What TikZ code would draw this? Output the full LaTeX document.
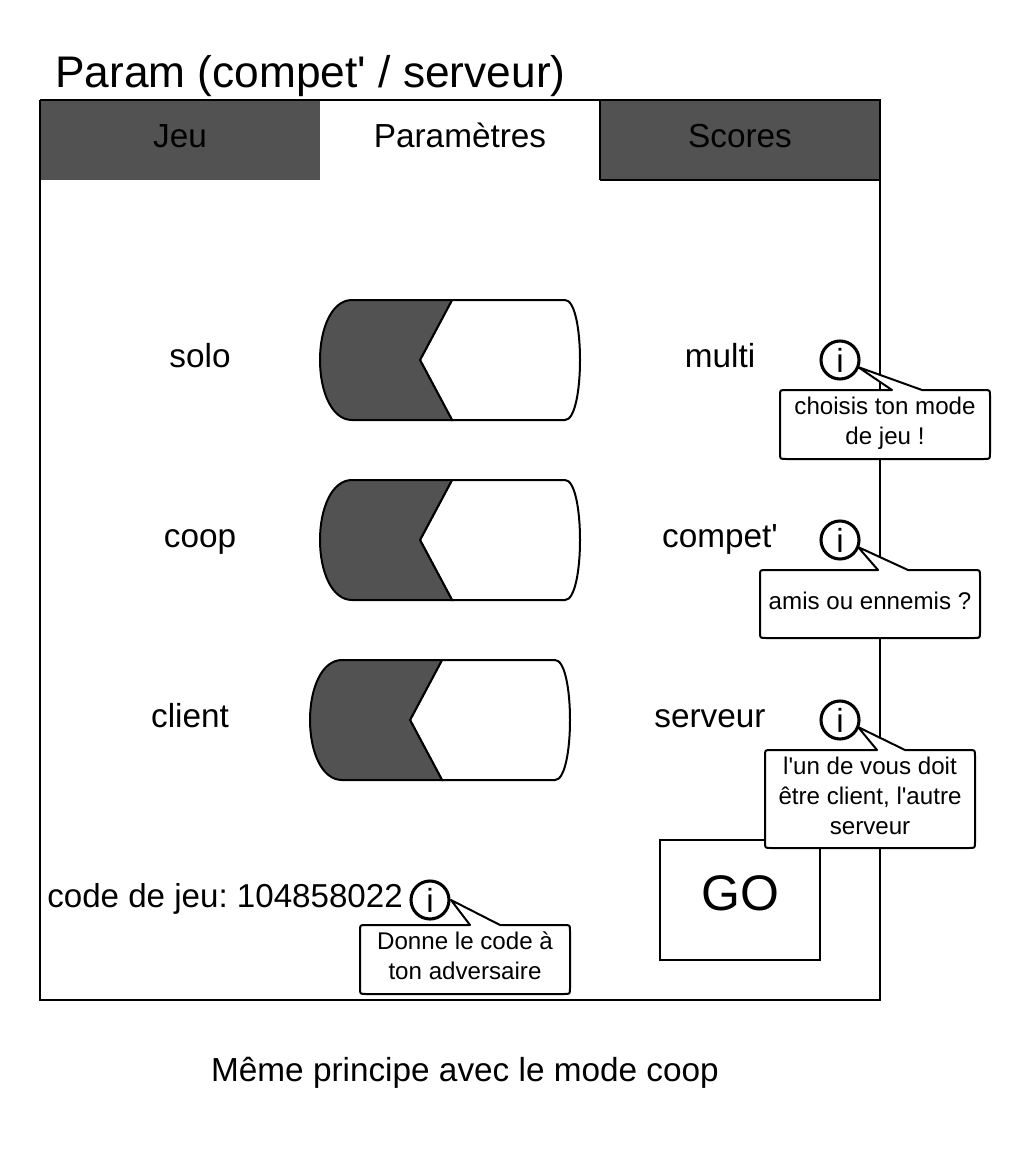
\documentclass[tikz,border=0pt]{standalone}
\usepackage{fontspec}
\newfontfamily\lib{Liberation Sans}
\definecolor{darkfill}{HTML}{525252}
\tikzset{
  x=0.75pt,y=-0.75pt,
  line/.style={draw=black,line width=1.5pt},
  txt/.style={inner sep=0pt,anchor=base,font=\lib\frenchspacing\fontsize{25pt}{30pt}\selectfont},
  small/.style={inner sep=0pt,align=center,font=\lib\frenchspacing\fontsize{18.1pt}{22.3pt}\selectfont},
  circ/.style={circle,draw=black,line width=2.3pt,fill=white,minimum size=28.5pt,inner sep=0pt,font=\lib\fontsize{25pt}{30pt}\selectfont},
  bubble/.style={draw=black,line width=1.5pt,fill=white,line join=round},
}
\newcommand{\togglesw}[2]{%
  \begin{scope}[shift={(#1,#2)}]
    \draw[line,fill=white] (132,0) -- (245,0) .. controls (255,0) and (260,30) .. (260,60)
       .. controls (260,90) and (255,120) .. (245,120) -- (132,120) -- (100,60) -- cycle;
    \draw[line,fill=darkfill] (132,0) -- (32,0) .. controls (12,0) and (0,28) .. (0,60)
       .. controls (0,92) and (12,120) .. (32,120) -- (132,120) -- (100,60) -- cycle;
  \end{scope}}
% left top right bottom tipx tipy base1 base2
\newcommand{\bubbleshape}[8]{%
  \draw[bubble] (#7,#2) -- (#5,#6) -- (#8,#2) -- ({#3-6},#2) .. controls (#3,#2) .. (#3,{#2+6})
    -- (#3,{#4-6}) .. controls (#3,#4) .. ({#3-6},#4) -- ({#1+6},#4) .. controls (#1,#4) .. (#1,{#4-6})
    -- (#1,{#2+6}) .. controls (#1,#2) .. ({#1+6},#2) -- cycle;
}
\begin{document}
\begin{tikzpicture}
\useasboundingbox (0,0) rectangle (1030,1170);
\fill[white] (0,0) rectangle (1030,1170);
% frame
\draw[line] (40,180) -- (40,1000) -- (880,1000) -- (880,100);
% tabs
\fill[darkfill] (40,100) rectangle (320,180);
\fill[darkfill] (600,100) rectangle (880,180);
\draw[line] (600,180) -- (880,180) -- (880,100) -- (600,100);
\draw[draw=black,line width=0.8pt] (40,100) -- (600,100) -- (600,180);
\draw[draw=black,line width=0.8pt] (40,100) -- (40,180);
\node[txt] (tabjeu) at (180,147) {Jeu};
\node[txt] (tabparam) at (460,147) {Paramètres};
\node[txt] (tabscores) at (740,147) {Scores};
\node[inner sep=0pt,anchor=base west,font=\lib\fontsize{33.2pt}{40pt}\selectfont] (title) at (55,88) {Param (compet' / serveur)};
% toggles
\togglesw{320}{300}
\togglesw{320}{480}
\togglesw{310}{660}
\node[txt] (solo) at (200,367) {solo};
\node[txt] (multi) at (720,367) {multi};
\node[txt] (coop) at (200,547) {coop};
\node[txt] (compet) at (720,547) {compet'};
\node[txt] (client) at (190,727) {client};
\node[txt] (serveur) at (710,727) {serveur};
\node[txt,anchor=base west,font=\lib\frenchspacing\fontsize{24.85pt}{30pt}\selectfont] (code) at (47,907) {code de jeu: 104858022};
% GO
\node[draw=black,line width=1.5pt,fill=white,minimum width=120pt,minimum height=90pt,inner sep=0pt] (go) at (740,900) {};
\node[inner sep=0pt,anchor=base,font=\lib\fontsize{37.5pt}{45pt}\selectfont] (gotext) at (740,910) {GO};
% callouts
\bubbleshape{780}{390}{990}{459}{858}{367}{892}{922}
\bubbleshape{760}{570}{980}{638}{858}{547}{878}{908}
\bubbleshape{765}{750}{975}{848}{858}{727}{877}{905}
\bubbleshape{360}{925}{570}{994}{451}{900}{470}{500}
\node[circ] (i1) at (840,360) {i};
\node[circ] (i2) at (840,540) {i};
\node[circ] (i3) at (840,720) {i};
\node[circ] (i4) at (430,900) {i};
\node[small] (t1) at (885,423) {choisis ton mode\\de jeu !};
\node[small] (t2) at (870,601) {amis ou ennemis ?};
\node[small] (t3) at (870,796) {l'un de vous doit\\être client, l'autre\\serveur};
\node[small] (t4) at (465,956) {Donne le code à\\ton adversaire};
\node[txt] (foot) at (465,1081) {Même principe avec le mode coop};
\end{tikzpicture}
\end{document}
